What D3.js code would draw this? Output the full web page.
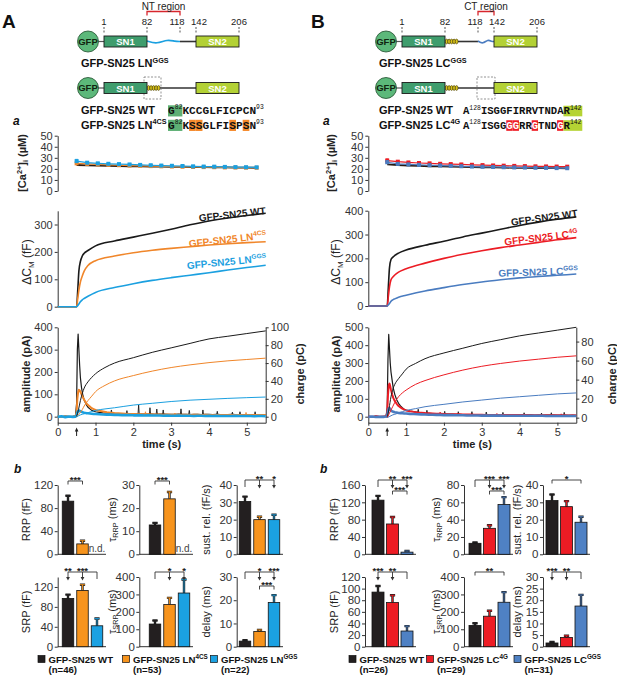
<!DOCTYPE html>
<html>
<head>
<meta charset="utf-8">
<script src="https://cdn.jsdelivr.net/npm/d3@7"></script>
<style>body{margin:0;background:#fff;}</style>
</head>
<body>
<svg id="fig" width="617" height="676"></svg>
<script>
// ---------- data ----------
var domainMarks=[1,82,118,142,206];

// [Ca2+]i (uM) sampled during the stimulus
var caT=[0.50,0.78,1.06,1.34,1.62,1.90,2.18,2.46,2.74,3.02,3.30,3.58,3.86,4.14,4.42,4.70,4.98,5.26];
var caWT_A=[23.5,23.2,23,22.8,22.6,22.4,22.2,22.1,22,21.9,21.8,21.6,21.5,21.4,21.3,21.2,21.1,21];
var caLN4CS=[25,24.5,24,23.6,23.3,23,22.8,22.5,22.3,22.1,21.9,21.7,21.6,21.5,21.3,21.2,21.1,21];
var caLNGGS=[27,25.6,25,24.6,24.3,24,23.6,23.3,23,22.8,22.6,22.3,22.1,22,21.8,21.6,21.5,21.4];
var caErrA=[1.6,0.9,0.8,0.8,0.8,0.7,0.7,0.7,0.7,0.7,0.7,0.6,0.6,0.6,0.6,0.6,0.6,0.6];
var caWT_B=[24,23.4,23,22.7,22.4,22.2,22,21.8,21.6,21.4,21.3,21.1,21,20.9,20.8,20.7,20.6,20.5];
var caLC4G=[27.5,26.5,25.8,25.3,25,24.6,24.3,24,23.7,23.4,23.1,22.9,22.7,22.5,22.3,22.2,22.1,22];
var caLCGGS=[26,24.5,24,23.6,23.3,23,22.7,22.4,22.1,21.9,21.7,21.5,21.3,21.2,21,20.9,20.7,20.6];
var caErrB=[1.5,1,0.9,0.9,0.8,0.8,0.8,0.8,0.7,0.7,0.7,0.7,0.7,0.7,0.7,0.7,0.7,0.7];

// capacitance (fF)
var tCap=[0,0.5,0.53,0.56,0.6,0.65,0.7,0.8,1,1.5,2,2.5,3,3.5,4,4.5,5,5.5];
var capWT_A=[0,0,60,130,165,185,195,205,222,240,254,268,283,299,313,324,333,341];
var capLN4CS=[0,0,30,60,90,112,130,150,168,185,197,206,213,219,225,230,234,237];
var capLNGGS=[0,0,4,10,18,25,30,38,52,70,84,96,106,115,124,134,143,151];
var capWT_B=[0,0,80,160,195,205,212,222,235,255,272,290,306,322,338,352,364,374];
var capLC4G=[0,0,40,80,110,122,130,142,156,180,200,217,232,245,256,267,278,287];
var capLCGGS=[0,0,5,10,20,26,30,37,45,63,77,90,101,110,118,124,129,134];

// charge (pC)
var tChg=[0.5,0.55,0.6,0.65,0.7,0.8,0.9,1,1.25,1.5,2,2.5,3,3.5,4,4.5,5,5.5];
var chgWT_A=[0,8,18,26,32,39,44,48,55,60,66,72,77,82,87,90,93,96];
var chgLN4CS=[0,2,5,8,12,18,23,28,35,40,46,51,55,58,60.5,62.5,64,65.5];
var chgLNGGS=[0,1,2,2.7,3.3,4.5,5.8,7,8.7,10,13,15,17,18.5,19.5,20.5,21.3,22];
var chgWT_B=[0,10,22,30,35,41,46,51,57,62,68,73,78,82,86,89,92,95];
var chgLC4G=[0,4,8,12,16,22,26,29,35,39,45,50,54,57,59.5,61.5,63.5,65];
var chgLCGGS=[0,1,2,3,3.5,5,6.3,7.5,9.5,11.5,14,16.5,18.5,20.5,22,23.5,25,26];

// amperometric current (pA)
var tCur=[0,0.1,0.2,0.3,0.4,0.47,0.5,0.52,0.54,0.56,0.58,0.6,0.63,0.66,0.7,0.75,0.8,0.85,0.9,0.95,1.0,
  1.1,1.2,1.3,1.4,1.5,1.6,1.7,1.8,1.9,2.0,2.1,2.2,2.3,2.4,2.5,2.6,2.7,2.8,2.9,3.0,
  3.1,3.2,3.3,3.4,3.5,3.6,3.7,3.8,3.9,4.0,4.1,4.2,4.3,4.4,4.5,4.6,4.7,4.8,4.9,5.0,5.1,5.2,5.3,5.4,5.5];
var curWT_A=[2,-1,3,0,2,4,60,300,370,300,230,175,130,100,75,55,42,35,28,25,22,
  19,17,16,15,14,13,12,13,12,12, 12,11,12,11,11,10,11,11,10,10,
  10,11,10,10,9,10,10,9,10,10, 9,10,9,9,9,10,9,9,9,9, 9,8,9,9,8];
var curLN4CS=[1,-2,2,0,1,2,20,80,110,120,118,112,100,88,75,62,52,45,38,34,30,
  26,23,20,18,16,15,14,13,12,12, 11,11,10,11,10,10,10,9,10,9,
  9,9,9,9,8,9,9,8,9,8, 8,8,8,8,8,8,8,7,8,8, 8,7,8,7,7];
var curLNGGS=[-1,2,-2,1,-1,0,5,18,25,28,26,24,22,20,18,16,15,14,13,12,12,
  11,10,9,9,8,8,7,7,7,6, 6,6,5,6,5,5,5,4,5,4,
  4,5,4,4,4,3,4,4,3,4, 3,4,3,3,3,3,4,3,3,3, 3,2,3,3,2];
var curWT_B=[2,-2,3,0,1,3,50,320,460,380,300,250,205,160,125,95,75,60,50,42,37,
  32,28,25,22,20,19,18,17,16,15, 14,14,13,13,12,12,12,12,11,11,
  11,10,10,10,10,10,9,10,9,9, 9,9,10,8,9,8,9,9,9,8, 8,8,8,8,8];
var curLC4G=[1,-1,2,0,1,2,20,120,175,185,170,150,125,105,88,72,60,52,45,40,35,
  30,27,24,22,20,19,18,17,16,15, 14,14,13,13,12,12,12,11,11,11,
  10,10,10,10,10,9,9,9,9,9, 9,9,8,8,8,8,8,8,8,8, 8,8,7,8,7];
var curLCGGS=[-1,1,-2,0,-1,1,5,30,45,48,40,35,30,28,25,23,21,20,19,18,18,
  16,15,14,13,12,11,11,10,10,9, 9,9,8,8,8,7,7,7,7,6,
  6,6,6,6,6,5,5,5,5,5, 5,5,5,5,5,5,4,4,4,4, 4,4,4,4,4];
// single release spikes on top of the traces: [time, base, peak]
var spikesWT_A=[[1.42,15,30],[1.83,12,27],[2.14,12,52],[2.44,11,40],[2.62,11,34],[2.79,11,30],
  [3.26,10,35],[3.48,10,28],[3.84,10,30],[4.22,9,24],[4.62,9,20],[4.82,9,22],[5.22,9,22]];
var spikesLN4CS=[[2.32,10,22],[3.1,9,16],[4.98,8,19]];
var spikesWT_B=[[1.32,24,42],[1.55,20,36],[2.02,14,30],[2.38,13,28],[2.74,12,28],[3.12,11,26],
  [3.56,10,24],[4.12,9,22],[4.58,9,20],[4.84,9,22],[5.18,8,24]];
var spikesLC4G=[[1.9,16,26],[3.4,10,18],[5.1,8,16]];

// bar summaries: mean and SEM (WT, mutant 1, mutant 2)
var rrpA=[92,18,null],   rrpAErr=[9.5,5.5,0];
var trrpA=[12.7,24,null], trrpAErr=[0.9,3.0,0];
var sustA=[30.5,20,20],  sustAErr=[2.8,1.7,2.8];
var srpA=[97,113,42],    srpAErr=[7.5,11.5,14.5];
var tsrpA=[130,242,308], tsrpAErr=[20,38,78];
var delayA=[2.4,6.5,19], delayAErr=[0.35,0.7,3.2];
var rrpB=[125,70,5],     rrpBErr=[10,16,2.5];
var trrpB=[12.7,30,57.5], trrpBErr=[1,3.5,8.5];
var sustB=[31,27.5,18.5], sustBErr=[3.5,3.2,3.2];
var srpB=[94,76,27],     srpBErr=[10.5,12.5,8.5];
var tsrpB=[122,175,255], tsrpBErr=[13,31,58];
var delayB=[1.6,4,17.5], delayBErr=[0.4,0.7,4.8];

var groupsA=[["GFP-SN25 WT",""],["GFP-SN25 LN","4CS"],["GFP-SN25 LN","GGS"]];
var groupsB=[["GFP-SN25 WT",""],["GFP-SN25 LC","4G"],["GFP-SN25 LC","GGS"]];
var nA=[46,53,22], nB=[26,29,31];

// significance marks
var sigA_rrp=[{t:"pair",a:0,b:1,y:481,l:"***"}];
var sigA_trrp=[{t:"pair",a:0,b:1,y:481,l:"***"}];
var sigA_sust=[{t:"multi",a:0,b:2,y:480,ar:{1:"**",2:"*"}}];
var sigA_srp=[{t:"multi",a:0,b:2,y:572,ar:{0:"**",1:"***"}}];
var sigA_tsrp=[{t:"multi",a:0,b:2,y:572,ar:{1:"*",2:"*"}}];
var sigA_delay=[{t:"multi",a:0,b:2,y:572,ar:{1:"*",2:"***"}},{t:"pair",a:1,b:2,y:586,l:"***"}];
var sigB_rrp=[{t:"multi",a:0,b:2,y:480,ar:{1:"**",2:"***"}},{t:"pair",a:1,b:2,y:491,l:"***"}];
var sigB_trrp=[{t:"multi",a:0,b:2,y:480,ar:{1:"***",2:"***"}},{t:"pair",a:1,b:2,y:491,l:"***"}];
var sigB_sust=[{t:"pair",a:0,b:2,y:480,l:"*"}];
var sigB_srp=[{t:"multi",a:0,b:2,y:572,ar:{0:"***",1:"**"}}];
var sigB_tsrp=[{t:"pair",a:0,b:2,y:572,l:"**"}];
var sigB_delay=[{t:"multi",a:0,b:2,y:572,ar:{0:"***",1:"**"}}];

// ---------- drawing ----------
var FONT='"Liberation Sans",Arial,sans-serif';
var MONO='"Liberation Mono","Courier New",monospace';
var AX="#333";
var cWT="#1a1a1a", cOr="#f0862a", cBl="#1ba0e0", cRed="#ec1c24", cSb="#4a7cc0";
var barA=["#231f20","#f7941d","#1ba1e2"], barB=["#231f20","#ed1c24","#4f81c4"];

var svg=d3.select("#fig").attr("font-family",FONT);

function rich(t,parts,fs){
  var cur=0;
  parts.forEach(function(p){
    var s=t.append("tspan").text(p[0]);
    var off=p[1]=="sup"?-fs*0.4:(p[1]=="sub"?fs*0.22:0);
    s.attr("dy",off-cur); cur=off;
    if(p[1]) s.attr("font-size",fs*0.66);
  });
  return t;
}
function txt(x,y,parts,o){
  var t=svg.append("text").attr("x",x).attr("y",y).attr("font-size",o.fs)
    .attr("font-weight",o.w||"normal").attr("fill",o.c||"#111").attr("text-anchor",o.a||"start");
  if(o.it) t.attr("font-style","italic");
  if(o.rot!=null) t.attr("transform","rotate("+o.rot+","+x+","+y+")");
  if(typeof parts=="string") t.text(parts); else rich(t,parts,o.fs);
  return t;
}
function styleAxis(g,fs){
  g.attr("font-family",FONT).attr("font-size",fs);
  g.select(".domain").attr("stroke",AX).attr("stroke-width",1);
  g.selectAll(".tick line").attr("stroke",AX);
  g.selectAll(".tick text").attr("fill","#333");
}
function yAxis(scale,ticks,x,fs,right,pad){
  var ax=(right?d3.axisRight(scale):d3.axisLeft(scale)).tickValues(ticks).tickFormat(d3.format("d"))
    .tickSize(3).tickSizeOuter(0).tickPadding(pad==null?2:pad);
  return svg.append("g").attr("transform","translate("+x+",0)").call(ax).call(styleAxis,fs);
}

// ---- schematics ----
var resX=d3.scaleLinear().domain(domainMarks).range([104,147,180,196,239]);
var labelShift={1:0,82:0,118:-3,142:3,206:0};
function wave(x1,x2,cy,color){
  var w=x2-x1, pts=[[0,-0.5],[0.3,2.6],[0.62,-2.2],[0.85,0],[1,0]];
  svg.append("path").datum(pts)
    .attr("d",d3.line().curve(d3.curveBasis).x(function(d){return x1+d[0]*w;}).y(function(d){return cy+d[1];}))
    .attr("fill","none").attr("stroke",color).attr("stroke-width",1.6);
}
function coil(x1,cy){
  for(var i=0;i<5;i++){
    svg.append("ellipse").attr("cx",x1+1.6+i*2.5).attr("cy",cy).attr("rx",1.4).attr("ry",2.4)
      .attr("fill","#d9c31c").attr("stroke","#3b3200").attr("stroke-width",0.6);
  }
}
function construct(dx,cy,kind,top){
  var X=function(r){return resX(r)+dx;};
  var cx=88+dx;
  svg.append("line").attr("x1",cx+10).attr("x2",X(1)).attr("y1",cy).attr("y2",cy).attr("stroke","#555").attr("stroke-width",1.2);
  if(kind=="NTwave"){
    wave(X(82),X(118),cy,cBl);
    svg.append("line").attr("x1",X(118)).attr("x2",X(142)).attr("y1",cy).attr("y2",cy).attr("stroke","#333").attr("stroke-width",1.6);
  } else if(kind=="CTwave"){
    svg.append("line").attr("x1",X(82)+13).attr("x2",X(118)).attr("y1",cy).attr("y2",cy).attr("stroke","#333").attr("stroke-width",1.6);
    wave(X(118),X(142),cy,cSb);
    coil(X(82),cy);
  } else {
    svg.append("line").attr("x1",X(82)+13).attr("x2",X(142)).attr("y1",cy).attr("y2",cy).attr("stroke","#333").attr("stroke-width",1.6);
    coil(X(82),cy);
    var bx=kind=="NTbox"?[X(82)-3,X(82)+14]:[X(118)-1,X(142)+1];
    svg.append("rect").attr("x",bx[0]).attr("y",cy-11).attr("width",bx[1]-bx[0]).attr("height",22)
      .attr("fill","none").attr("stroke","#777").attr("stroke-width",0.8).attr("stroke-dasharray","2,1.5");
  }
  svg.append("circle").attr("cx",cx).attr("cy",cy).attr("r",10.5).attr("fill","#5cb87a").attr("stroke","#1e4d2b").attr("stroke-width",0.8);
  txt(cx,cy+3.4,"GFP",{fs:9.5,w:"bold",a:"middle",c:"#10240f"});
  svg.append("rect").attr("x",X(1)).attr("y",cy-5.5).attr("width",X(82)-X(1)).attr("height",11)
    .attr("fill","#3f9d6d").attr("stroke","#1a1a1a").attr("stroke-width",0.9);
  txt((X(1)+X(82))/2,cy+3.5,"SN1",{fs:9.5,w:"bold",a:"middle",c:"#fff"});
  svg.append("rect").attr("x",X(142)).attr("y",cy-5.5).attr("width",X(206)-X(142)).attr("height",11)
    .attr("fill","#b3d135").attr("stroke","#1a1a1a").attr("stroke-width",0.9);
  txt((X(142)+X(206))/2,cy+3.5,"SN2",{fs:9.5,w:"bold",a:"middle",c:"#fff"});
  if(top){
    domainMarks.forEach(function(r){
      txt(X(r)+labelShift[r],25,String(r),{fs:9.5,a:"middle",c:"#222"});
      svg.append("line").attr("x1",X(r)).attr("x2",X(r)).attr("y1",27).attr("y2",34)
        .attr("stroke","#555").attr("stroke-dasharray","2,1.5");
    });
  }
}
function regionMark(dx,r1,r2,label){
  var x1=resX(r1)+dx, x2=resX(r2)+dx;
  svg.append("path").attr("d","M"+x1+",15.5V11.5H"+x2+"V15.5").attr("fill","none").attr("stroke","#d7262d").attr("stroke-width",1.3);
  txt((x1+x2)/2,9.5,label,{fs:10,a:"middle",c:"#222"});
}
// peptide sequence in a fixed-pitch font, highlighted residues on coloured boxes
function seqRow(x0,y,cw,first,n1,rest,n2,hl){
  var fs=cw/0.6, sf=6.4, sw=function(s){return s.length*sf*0.6;};
  var g=svg.append("g");
  var xr=x0+cw+sw(n1);
  function box(x,w,c){g.append("rect").attr("x",x).attr("y",y-fs*0.78).attr("width",w).attr("height",fs*1.0).attr("fill",c);}
  if(hl.first) box(x0,cw+sw(n1),hl.first);
  (hl.idx||[]).forEach(function(i){box(xr+i*cw,cw,hl.idxColor);});
  if(hl.last) box(xr+(rest.length-1)*cw,cw+sw(n2)+1,hl.last);
  var t=g.append("text").attr("x",x0).attr("y",y).attr("font-family",MONO)
    .attr("font-weight","bold").attr("font-size",fs).attr("fill","#111");
  t.append("tspan").text(first);
  t.append("tspan").attr("dy",-fs*0.42).attr("font-size",sf).attr("font-weight","normal").text(n1);
  rest.split("").forEach(function(s,i){
    var white=hl.idxText&&(hl.idx||[]).indexOf(i)>=0;
    var sp=t.append("tspan").attr("fill",white?hl.idxText:"#111").text(s);
    if(i==0) sp.attr("dy",fs*0.42);
  });
  t.append("tspan").attr("dy",-fs*0.42).attr("font-size",sf).attr("font-weight","normal").text(n2);
}

// panel A schematic
txt(2,28,"A",{fs:19,w:"bold"});
regionMark(0,82,118,"NT region");
construct(0,41.5,"NTwave",true);
txt(81,67,[["GFP-SN25 LN"],["GGS","sup"]],{fs:11,w:"bold"});
construct(0,88,"NTbox",false);
txt(81,114,"GFP-SN25 WT",{fs:11,w:"bold"});
txt(81,128.5,[["GFP-SN25 LN"],["4CS","sup"]],{fs:11,w:"bold"});
seqRow(168,114,6.7,"G","82","KCCGLFICPCN","93",{first:"#5daf74"});
seqRow(168,128.5,6.7,"G","82","KSSGLFISPSN","93",{first:"#5daf74",idx:[1,2,7,9],idxColor:"#f5892a"});

// panel B schematic
txt(311,28,"B",{fs:19,w:"bold"});
regionMark(298,118,142,"CT region");
construct(298,41.5,"CTwave",true);
txt(379,67,[["GFP-SN25 LC"],["GGS","sup"]],{fs:11,w:"bold"});
construct(298,88,"CTbox",false);
txt(379,114,"GFP-SN25 WT",{fs:11,w:"bold"});
txt(379,128.5,[["GFP-SN25 LC"],["4G","sup"]],{fs:11,w:"bold"});
seqRow(463,114,6.35,"A","128","ISGGFIRRVTNDAR","142",{last:"#b5d334"});
seqRow(463,128.5,6.35,"A","128","ISGGGGRRGTNDGR","142",{last:"#b5d334",idx:[4,5,8,12],idxColor:"#ee1c25",idxText:"#fff"});

txt(13,125,"a",{fs:12,w:"bold",it:true});
txt(323,125,"a",{fs:12,w:"bold",it:true});
txt(14,473,"b",{fs:12,w:"bold",it:true});
txt(320,473,"b",{fs:12,w:"bold",it:true});

// ---- trace panels ----
function tracePanel(P){
  var x=d3.scaleLinear().domain([0,5.5]).range([P.x0,P.x0+208]);
  // calcium
  var yCa=d3.scaleLinear().domain([0,50]).range([191,135.7]);
  yAxis(yCa,[0,10,20,30,40,50],P.x0,11);
  var lCa=d3.line().x(function(d,i){return x(caT[i]);}).y(function(d){return yCa(d);});
  svg.append("path").datum(P.caBlack).attr("d",lCa).attr("fill","none").attr("stroke","#2a1a10").attr("stroke-width",1.8);
  P.caSeries.forEach(function(s){
    svg.append("path").datum(s.v).attr("d",lCa).attr("fill","none").attr("stroke",s.c).attr("stroke-width",1.2);
    var g=svg.append("g");
    g.selectAll("path").data(s.v).enter().append("path")
      .attr("d",function(d,i){var xx=x(caT[i]),a=yCa(d+P.caErr[i]),b=yCa(d-P.caErr[i]);
        return "M"+xx+","+a+"V"+b+"M"+(xx-1.5)+","+a+"H"+(xx+1.5);})
      .attr("stroke",s.c).attr("stroke-width",0.9);
    g.selectAll("rect").data(s.v).enter().append("rect")
      .attr("x",function(d,i){return x(caT[i])-2;}).attr("y",function(d){return yCa(d)-2;})
      .attr("width",4).attr("height",4).attr("fill",s.c);
  });
  txt(P.caLx,163,[["[Ca"],["2+","sup"],["]"],["i","sub"],[" (\u00b5M)"]],{fs:11,w:"bold",a:"middle",rot:-90,c:"#222"});

  // capacitance
  var yC=d3.scaleLinear().domain([0,P.cMax]).range([P.cY0,P.cY1]);
  yAxis(yC,P.cTicks,P.x0,11);
  var lC=d3.line().curve(d3.curveMonotoneX).x(function(d,i){return x(tCap[i]);}).y(function(d){return yC(d);});
  P.cap.forEach(function(s){
    svg.append("path").datum(s.v).attr("d",lC).attr("fill","none").attr("stroke",s.c).attr("stroke-width",1.6);
  });
  P.capLabels.forEach(function(l){
    txt(l.x,l.y,l.parts,{fs:10,w:"bold",a:"end",rot:l.rot,c:l.c});
  });
  txt(P.cLx,262,[["\u0394C"],["M","sub"],[" (fF)"]],{fs:12,a:"middle",rot:-90,c:"#222"});

  // amperometry
  var yI=d3.scaleLinear().domain([P.iMin,P.iMax]).range([422.7,327.3]);
  var yQ=d3.scaleLinear().domain([P.qMin,P.qMax]).range([422.7,327.3]);
  yAxis(yI,P.iTicks,P.x0,11);
  yAxis(yQ,P.qTicks,P.x0+208,11,true);
  svg.append("g").attr("transform","translate(0,422.7)")
    .call(d3.axisBottom(x).tickValues([0,1,2,3,4,5]).tickFormat(d3.format("d")).tickSize(3).tickSizeOuter(0).tickPadding(3))
    .call(styleAxis,11);
  var lI=d3.line().x(function(d,i){return x(tCur[i]);}).y(function(d){return yI(d);});
  P.cur.forEach(function(s){
    svg.append("path").datum(s.v).attr("d",lI).attr("fill","none").attr("stroke",s.c).attr("stroke-width",s.w).attr("stroke-linejoin","round");
    if(s.sp){
      svg.append("g").selectAll("path").data(s.sp).enter().append("path")
        .attr("d",function(d){var xx=x(d[0]);return "M"+(xx-0.6)+","+yI(d[1])+"L"+xx+","+yI(d[2])+"L"+(xx+0.6)+","+yI(d[1]);})
        .attr("fill","none").attr("stroke",s.c).attr("stroke-width",0.9);
    }
  });
  var lQ=d3.line().curve(d3.curveMonotoneX).x(function(d,i){return x(tChg[i]);}).y(function(d){return yQ(d);});
  P.chg.forEach(function(s){
    svg.append("path").datum(s.v).attr("d",lQ).attr("fill","none").attr("stroke",s.c).attr("stroke-width",1);
  });
  var ax=x(0.5);
  svg.append("path").attr("d","M"+ax+",436V430").attr("stroke","#222").attr("stroke-width",1);
  svg.append("path").attr("d","M"+(ax-1.8)+",431.5L"+ax+",427.5L"+(ax+1.8)+",431.5Z").attr("fill","#222");
  txt(P.x0+104,448,"time (s)",{fs:11,w:"bold",a:"middle",c:"#222"});
  txt(P.iLx,374,"amplitude (pA)",{fs:11,w:"bold",a:"middle",rot:-90,c:"#222"});
  txt(P.qLx,374,"charge (pC)",{fs:11,w:"bold",a:"middle",rot:-90,c:"#222"});
}

tracePanel({
  x0:57.7, caLx:26, cLx:31, iLx:29.5, qLx:304,
  caBlack:caWT_A, caErr:caErrA,
  caSeries:[{v:caLN4CS,c:cOr},{v:caLNGGS,c:cBl}],
  cMax:350, cY0:306.7, cY1:210.8, cTicks:[0,100,200,300],
  cap:[{v:capWT_A,c:cWT},{v:capLN4CS,c:cOr},{v:capLNGGS,c:cBl}],
  capLabels:[
    {x:266,y:214,rot:-6.5,c:cWT,parts:[["GFP-SN25 WT"]]},
    {x:266.5,y:238.5,rot:-6.5,c:cOr,parts:[["GFP-SN25 LN"],["4CS","sup"]]},
    {x:266.5,y:261.5,rot:-5.5,c:cBl,parts:[["GFP-SN25 LN"],["GGS","sup"]]}],
  iMin:-27, iMax:400, iTicks:[0,100,200,300,400],
  qMin:-6.7, qMax:100, qTicks:[0,20,40,60,80,100],
  cur:[{v:curWT_A,c:cWT,w:1.2,sp:spikesWT_A},{v:curLN4CS,c:cOr,w:2,sp:spikesLN4CS},{v:curLNGGS,c:cBl,w:2.6}],
  chg:[{v:chgWT_A,c:cWT},{v:chgLN4CS,c:cOr},{v:chgLNGGS,c:cBl}]
});
tracePanel({
  x0:368.3, caLx:335, cLx:340, iLx:340, qLx:615.5,
  caBlack:caWT_B, caErr:caErrB,
  caSeries:[{v:caLC4G,c:cRed},{v:caLCGGS,c:cSb}],
  cMax:400, cY0:306, cY1:210.7, cTicks:[0,100,200,300,400],
  cap:[{v:capWT_B,c:cWT},{v:capLC4G,c:cRed},{v:capLCGGS,c:cSb}],
  capLabels:[
    {x:578,y:216.5,rot:-8,c:cWT,parts:[["GFP-SN25 WT"]]},
    {x:578,y:236.5,rot:-7,c:cRed,parts:[["GFP-SN25 LC"],["4G","sup"]]},
    {x:578,y:274,rot:-2,c:cSb,parts:[["GFP-SN25 LC"],["GGS","sup"]]}],
  iMin:-33.6, iMax:500, iTicks:[0,100,200,300,400,500],
  qMin:-5.3, qMax:95, qTicks:[0,20,40,60,80],
  cur:[{v:curWT_B,c:cWT,w:1.2,sp:spikesWT_B},{v:curLC4G,c:cRed,w:2,sp:spikesLC4G},{v:curLCGGS,c:cSb,w:2.6}],
  chg:[{v:chgWT_B,c:cWT},{v:chgLC4G,c:cRed},{v:chgLCGGS,c:cSb}]
});

// ---- bar charts ----
function barChart(o){
  var y=d3.scaleLinear().domain([0,o.max]).range([o.yb,o.yt]);
  var x=d3.scalePoint().domain([0,1,2]).range([o.c0,o.c0+29]);
  var w=o.w||11.5;
  yAxis(y,o.ticks,o.ax,11.5,false,1.5);
  svg.append("line").attr("x1",o.ax).attr("x2",o.c0+29+9).attr("y1",y(0)).attr("y2",y(0)).attr("stroke",AX);
  o.vals.forEach(function(v,i){
    var cx=x(i);
    if(v==null){ txt(cx,y(0)-2,"n.d.",{fs:10,a:"middle",c:"#444"}); return; }
    var top=y(v+o.err[i]);
    var d="M"+cx+","+y(v)+"V"+top+"M"+(cx-2.6)+","+top+"H"+(cx+2.6);
    svg.append("path").attr("d",d).attr("stroke","#222").attr("stroke-width",2.4);
    svg.append("path").attr("d",d).attr("stroke",o.colors[i]).attr("stroke-width",0.9);
    svg.append("rect").attr("x",cx-w/2).attr("y",y(v)).attr("width",w).attr("height",y(0)-y(v))
      .attr("fill",o.colors[i]).attr("stroke","#111").attr("stroke-width",0.8);
  });
  (o.sig||[]).forEach(function(s){
    var x1=x(s.a), x2=x(s.b), ly=s.y;
    if(s.t=="pair"){
      svg.append("path").attr("d","M"+x1+","+(ly+3.5)+"V"+ly+"H"+x2+"V"+(ly+3.5)).attr("fill","none").attr("stroke","#333").attr("stroke-width",0.9);
      txt((x1+x2)/2,ly+1.5,s.l,{fs:9.5,w:"bold",a:"middle",c:"#222"});
    } else {
      svg.append("path").attr("d","M"+x1+","+ly+"H"+x2).attr("stroke","#333").attr("stroke-width",0.9);
      for(var i=s.a;i<=s.b;i++){
        var cx=x(i);
        svg.append("path").attr("d","M"+cx+","+ly+"V"+(ly+7)).attr("stroke","#333").attr("stroke-width",0.9);
        if(s.ar[i]){
          svg.append("path").attr("d","M"+(cx-1.9)+","+(ly+5)+"L"+cx+","+(ly+8.5)+"L"+(cx+1.9)+","+(ly+5)+"Z").attr("fill","#333");
          txt(cx,ly+1.5,s.ar[i],{fs:9.5,w:"bold",a:"middle",c:"#222"});
        }
      }
    }
  });
  txt(o.lx,(o.yb+o.yt)/2,o.lab,{fs:11,a:"middle",rot:-90,c:"#222"});
}

var R1=[554.3,485], R2=[646.7,577];
barChart({ax:57.7,c0:68,yb:R1[0],yt:R1[1],max:120,ticks:[0,40,80,120],vals:rrpA,err:rrpAErr,colors:barA,sig:sigA_rrp,lx:30,lab:[["RRP (fF)"]]});
barChart({ax:139.3,c0:155,yb:R1[0],yt:R1[1],max:30,ticks:[0,10,20,30],vals:trrpA,err:trrpAErr,colors:barA,sig:sigA_trrp,lx:116,lab:[["\u03c4"],["RRP","sub"],[" (ms)"]]});
barChart({ax:236.7,c0:245,yb:R1[0],yt:R1[1],max:40,ticks:[0,10,20,30,40],vals:sustA,err:sustAErr,colors:barA,sig:sigA_sust,lx:210,lab:[["sust. rel. (fF/s)"]]});
barChart({ax:57.7,c0:68,yb:R2[0],yt:R2[1],max:140,ticks:[0,40,80,120],vals:srpA,err:srpAErr,colors:barA,sig:sigA_srp,lx:30,lab:[["SRP (fF)"]]});
barChart({ax:139.3,c0:155,yb:R2[0],yt:R2[1],max:400,ticks:[0,100,200,300,400],vals:tsrpA,err:tsrpAErr,colors:barA,sig:sigA_tsrp,lx:116,lab:[["\u03c4"],["SRP","sub"],[" (ms)"]]});
barChart({ax:236.7,c0:245,yb:R2[0],yt:R2[1],max:30,ticks:[0,10,20,30],vals:delayA,err:delayAErr,colors:barA,sig:sigA_delay,lx:210,lab:[["delay (ms)"]]});

barChart({ax:365,c0:378,w:12,yb:R1[0],yt:R1[1],max:160,ticks:[0,40,80,120,160],vals:rrpB,err:rrpBErr,colors:barB,sig:sigB_rrp,lx:338,lab:[["RRP (fF)"]]});
barChart({ax:464,c0:475,w:12,yb:R1[0],yt:R1[1],max:80,ticks:[0,20,40,60,80],vals:trrpB,err:trrpBErr,colors:barB,sig:sigB_trrp,lx:440,lab:[["\u03c4"],["RRP","sub"],[" (ms)"]]});
barChart({ax:543,c0:552,w:12,yb:R1[0],yt:R1[1],max:40,ticks:[0,10,20,30,40],vals:sustB,err:sustBErr,colors:barB,sig:sigB_sust,lx:521,lab:[["sust. rel. (fF/s)"]]});
barChart({ax:365,c0:378,w:12,yb:R2[0],yt:R2[1],max:120,ticks:[0,20,40,60,80,100,120],vals:srpB,err:srpBErr,colors:barB,sig:sigB_srp,lx:338,lab:[["SRP (fF)"]]});
barChart({ax:464,c0:475,w:12,yb:R2[0],yt:R2[1],max:400,ticks:[0,100,200,300,400],vals:tsrpB,err:tsrpBErr,colors:barB,sig:sigB_tsrp,lx:440,lab:[["\u03c4"],["SRP","sub"],[" (ms)"]]});
barChart({ax:543,c0:552,w:12,yb:R2[0],yt:R2[1],max:30,ticks:[0,5,10,15,20,25,30],vals:delayB,err:delayBErr,colors:barB,sig:sigB_delay,lx:521,lab:[["delay (ms)"]]});

// ---- legends ----
function legend(xs,groups,ns,colors){
  groups.forEach(function(gr,i){
    svg.append("rect").attr("x",xs[i]).attr("y",655.5).attr("width",7).attr("height",7)
      .attr("fill",colors[i]).attr("stroke","#111").attr("stroke-width",0.7);
    var parts=[[gr[0]]]; if(gr[1]) parts.push([gr[1],"sup"]);
    txt(xs[i]+10.5,662.5,parts,{fs:9.6,w:"bold",c:"#111"});
    txt(xs[i]+10.5,673,"(n="+ns[i]+")",{fs:9.6,w:"bold",c:"#111"});
  });
}
legend([38,122.5,210.5],groupsA,nA,barA);
legend([349,426.5,514],groupsB,nB,barB);
</script>
</body>
</html>
